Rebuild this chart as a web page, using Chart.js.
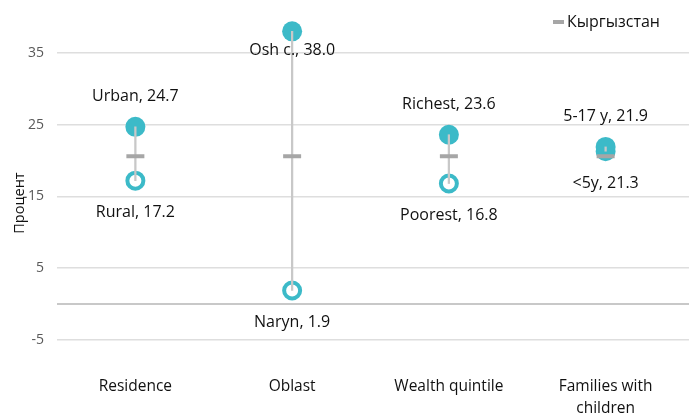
<!DOCTYPE html>
<html>
<head>
<meta charset="utf-8">
<script src="https://cdn.jsdelivr.net/npm/chart.js@4.4.1/dist/chart.umd.min.js"></script>
<style>
html,body{margin:0;padding:0;background:#fff;overflow:hidden}
canvas{display:block}
</style>
</head>
<body>
<canvas id="mycanvas" width="689" height="417"></canvas>
<script>
var categories = ['Residence', 'Oblast', 'Wealth quintile', ['Families with', 'children']];
var highNames = ['Urban', 'Osh c.', 'Richest', '5-17 y'];
var highValues = [24.7, 38.0, 23.6, 21.9];
var lowNames = ['Rural', 'Naryn', 'Poorest', '<5y'];
var lowValues = [17.2, 1.9, 16.8, 21.3];
var nationalLabel = 'Кыргызстан';
var nationalValues = [20.6, 20.6, 20.6, 20.6];
var yTicks = [-5, 0, 5, 15, 25, 35];
var yTitle = 'Процент';

var teal = '#3cbac8';
var grey = '#a6a6a6';
var FONT = "'Open Sans', sans-serif";

var ranges = [];
for (var i = 0; i < lowValues.length; i++) {
	ranges.push([lowValues[i], highValues[i]]);
}

// stretch the category axis to the plot width, gridlines to the edge
var areaPlugin = {
	id: 'areaFix',
	afterLayout: function(chart){
		var x = chart.scales.x;
		x.right = 684;
		x.width = x.right - x.left;
		x.configure();
		chart.chartArea.right = 689;
		chart.chartArea.width = 689 - chart.chartArea.left;
	}
};

// point labels, axis title, legend
var labelPlugin = {
	id: 'pointLabels',
	afterDatasetsDraw: function(chart){
		var ctx = chart.ctx;
		var area = chart.chartArea;
		ctx.save();
		ctx.font = '16px ' + FONT;
		ctx.fillStyle = '#111';
		ctx.textAlign = 'center';
		ctx.textBaseline = 'middle';
		var hi = chart.getDatasetMeta(2).data;
		hi.forEach(function(p, i){
			var y = p.y - 30;
			if (y - 8 < area.top) y = p.y + 19;
			ctx.fillText(highNames[i] + ', ' + highValues[i].toFixed(1), p.x, y);
		});
		var lo = chart.getDatasetMeta(3).data;
		lo.forEach(function(p, i){
			ctx.fillText(lowNames[i] + ', ' + lowValues[i].toFixed(1), p.x, p.y + 32);
		});
		// legend
		ctx.strokeStyle = grey;
		ctx.lineWidth = 4;
		ctx.beginPath();
		ctx.moveTo(553, 22);
		ctx.lineTo(564, 22);
		ctx.stroke();
		ctx.textAlign = 'left';
		ctx.fillText(nationalLabel, 567, 22);
		// y title
		ctx.font = '14.5px ' + FONT;
		ctx.textAlign = 'center';
		ctx.translate(20, 203);
		ctx.rotate(-Math.PI / 2);
		ctx.fillText(yTitle, 0, 0);
		ctx.restore();
	}
};

var ctx = document.getElementById('mycanvas');
var chart = new Chart(ctx, {
	data: {
		labels: categories,
		datasets: [
			{
				type: 'line',
				label: nationalLabel,
				data: nationalValues,
				showLine: false,
				pointStyle: 'line',
				pointRadius: 9,
				pointBorderWidth: 4,
				borderColor: grey,
				backgroundColor: grey,
				order: 0
			},
			{
				type: 'bar',
				label: 'range',
				data: ranges,
				backgroundColor: '#c8c8c8',
				barThickness: 1.6,
				order: 1
			},
			{
				type: 'line',
				label: 'high',
				data: highValues,
				showLine: false,
				pointRadius: 10,
				pointBorderWidth: 0,
				backgroundColor: teal,
				borderColor: teal,
				order: 2
			},
			{
				type: 'line',
				label: 'low',
				data: lowValues,
				showLine: false,
				pointRadius: 8,
				pointBorderWidth: 4,
				backgroundColor: '#ffffff',
				borderColor: teal,
				order: 3
			}
		]
	},
	options: {
		responsive: false,
		animation: false,
		layout: { padding: { top: 17, right: 4, left: 0, bottom: 0 } },
		plugins: {
			legend: { display: false },
			tooltip: { enabled: false }
		},
		scales: {
			x: {
				offset: true,
				grid: { display: false },
				border: { display: false },
				afterFit: function(s){
					s.height = 77;
					s.paddingLeft = 0;
					s.paddingRight = 0;
				},
				ticks: {
					padding: 27,
					color: '#111',
					maxRotation: 0,
					font: { family: FONT, size: 15.5, lineHeight: 1.45 }
				}
			},
			y: {
				min: -5,
				max: 40,
				afterFit: function(s){
					s.width = 57;
					s.paddingTop = 0;
					s.paddingBottom = 0;
				},
				afterBuildTicks: function(s){
					s.ticks = yTicks.map(function(v){ return { value: v }; });
				},
				border: { display: false },
				grid: {
					drawTicks: false,
					color: function(c){ return c.tick && c.tick.value === 0 ? '#c8c8c8' : '#dedede'; },
					lineWidth: function(c){ return c.tick && c.tick.value === 0 ? 2 : 1.5; }
				},
				ticks: {
					padding: 13,
					color: '#595959',
					font: { family: FONT, size: 14 },
					callback: function(v){ return v === 0 ? '' : v; }
				}
			}
		}
	},
	plugins: [areaPlugin, labelPlugin]
});
</script>
</body>
</html>
